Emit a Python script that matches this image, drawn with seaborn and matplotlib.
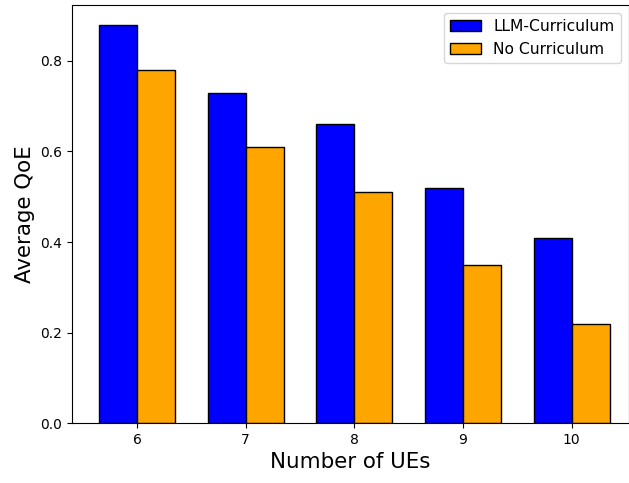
import matplotlib
matplotlib.use("Agg")
import matplotlib.pyplot as plt
import seaborn as sns
import pandas as pd

ues = ["6", "7", "8", "9", "10"]
llm_curriculum = [0.88, 0.73, 0.66, 0.52, 0.41]
no_curriculum = [0.78, 0.61, 0.51, 0.35, 0.22]
series_names = ["LLM-Curriculum", "No Curriculum"]
colors = ["blue", "orange"]

df = pd.DataFrame({
    "UEs": ues * 2,
    "QoE": llm_curriculum + no_curriculum,
    "Method": [series_names[0]] * len(ues) + [series_names[1]] * len(ues),
})

fig = plt.figure(figsize=(6.29, 4.83), dpi=100)
ax = fig.add_axes([0.1145, 0.124, 0.885, 0.866])
sns.barplot(data=df, x="UEs", y="QoE", hue="Method", order=ues,
            hue_order=series_names, palette=colors, width=0.7,
            edgecolor="black", linewidth=1, saturation=1, ax=ax, errorbar=None)
ax.set_xlim(-0.599, 4.525)
ax.set_ylim(0, 0.924)
ax.set_xlabel("Number of UEs", fontsize=15.4)
ax.set_ylabel("Average QoE", fontsize=15.4)
ax.legend(loc="upper right", title=None, fontsize=11.2)
fig.savefig("out.png", dpi=100)
